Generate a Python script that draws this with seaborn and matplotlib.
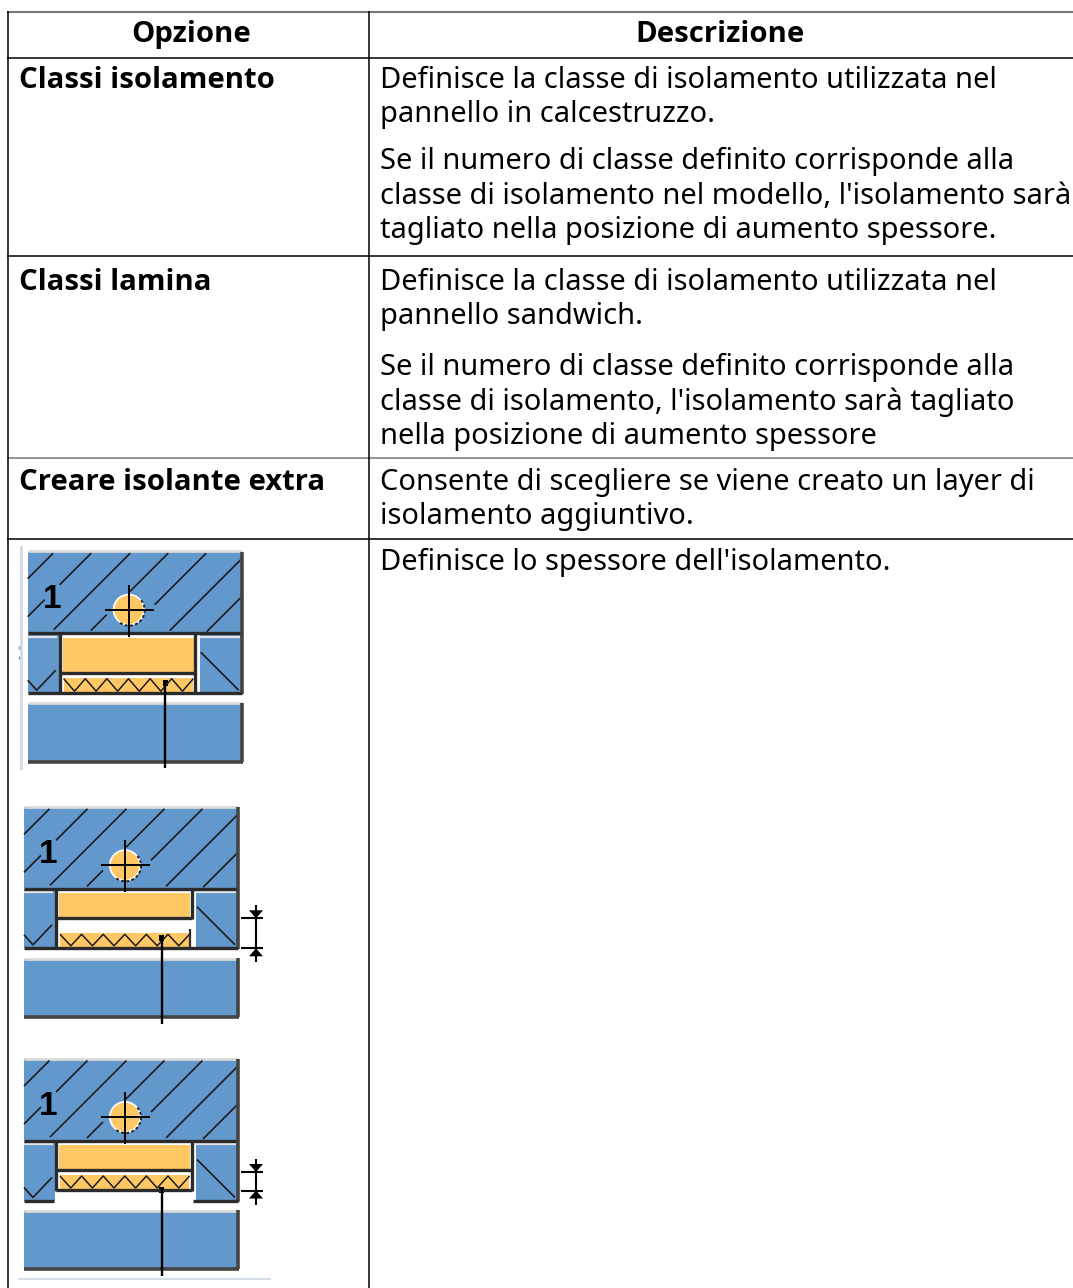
import matplotlib
matplotlib.use("Agg")
import matplotlib.pyplot as plt
import seaborn as sns
from matplotlib.patches import Rectangle, Circle, Polygon, Arc

# Table content
headers = ["Opzione", "Descrizione"]
options = ["Classi isolamento", "Classi lamina", "Creare isolante extra"]
option_baselines = [88, 290, 490]
descriptions = [
    "Definisce la classe di isolamento utilizzata nel",
    "pannello in calcestruzzo.",
    "Se il numero di classe definito corrisponde alla",
    "classe di isolamento nel modello, l'isolamento sarà",
    "tagliato nella posizione di aumento spessore.",
    "Definisce la classe di isolamento utilizzata nel",
    "pannello sandwich.",
    "Se il numero di classe definito corrisponde alla",
    "classe di isolamento, l'isolamento sarà tagliato",
    "nella posizione di aumento spessore",
    "Consente di scegliere se viene creato un layer di",
    "isolamento aggiuntivo.",
    "Definisce lo spessore dell'isolamento.",
]
description_baselines = [88, 122, 169, 204, 238, 290, 324, 375, 410, 444, 490, 524, 570]
row_rules = [57.5, 255.5, 458, 538.5]

BLUE = "#6398cc"
ORANGE = "#ffc864"
DARK = "#2b2b2b"
FS = 20.9
FS_BOLD = 21.1

sns.set_theme(style="white")
plt.rcParams["font.family"] = ["Noto Sans", "DejaVu Sans"]

fig, ax = plt.subplots(figsize=(10.73, 12.88), dpi=100)
ax.set_position([0, 0, 1, 1])
ax.axis("off")
ax.set_xlim(0, 1073)
ax.set_ylim(1288, 0)


def seg(xs, ys, lw=1.0, color="black", z=2):
    sns.lineplot(x=xs, y=ys, estimator=None, sort=False, errorbar=None, ax=ax,
                 color=color, lw=lw, legend=False, solid_capstyle="butt", zorder=z)


def rect(x0, y0, x1, y1, color):
    ax.add_patch(Rectangle((x0, y0), x1 - x0, y1 - y0, fc=color, ec="none"))


def diagram(x0, y0, up_bot, low_top, low_bot, side_bot, dims=None):
    def X(u):
        return x0 + u

    def Y(v):
        return y0 + v

    # top slab
    rect(X(0), Y(-1), X(214), Y(80), BLUE)
    seg([X(0), X(214)], [Y(-1.5), Y(-1.5)], 2.0, "#d9d9d9")
    # hatching, pieces given as ranges along the slab
    for c, stops in [(26, [(0, 26)]), (64, [(0, 17), (32, 64)]), (103, [(26, 103)]),
                     (141, [(63, 79), (102, 141)]), (179, [(127, 179)]), (220, [(142, 214)]),
                     (258, [(179, 214)])]:
        for a, b in stops:
            vs = [max(c - b, 0.5), min(c - a, 79)]
            seg([X(c - vs[0]), X(c - vs[1])], [Y(vs[0]), Y(vs[1])], 1.2, "#1c1c1c")
    # rebar circle
    ax.add_patch(Circle((X(101), Y(57)), 16, fc="white", ec="none", zorder=3))
    ax.add_patch(Arc((X(101.5), Y(57.5)), 31, 31, theta1=-40, theta2=130, ec="#222222",
                     lw=1.4, ls=(0, (1.5, 1.2)), zorder=3))
    ax.add_patch(Circle((X(101), Y(57)), 14.3, fc=ORANGE, ec="none", zorder=3))
    seg([X(77), X(126)], [Y(57), Y(57)], 1.4, z=4)
    seg([X(101), X(101)], [Y(32), Y(84)], 1.4, z=4)
    ax.text(X(24.5), Y(55), "1", fontsize=24, fontweight="bold", ha="center", va="baseline",
            family="Liberation Sans", color="black")

    # side blocks
    rect(X(0), Y(81), X(31), Y(side_bot), BLUE)
    rect(X(172), Y(81), X(214), Y(side_bot), BLUE)
    seg([X(0), X(29)], [Y(84), Y(84)], 1.6, "#e6e6e6")
    seg([X(171), X(212)], [Y(84), Y(84)], 1.6, "#e6e6e6")
    seg([X(0), X(9), X(28)], [Y(side_bot - 13), Y(side_bot - 3), Y(side_bot - 23)], 1.2, "#1c1c1c")
    seg([X(173), X(211)], [Y(side_bot - 41), Y(side_bot - 3)], 1.2, "#1c1c1c")

    # insulation
    rect(X(35), Y(85), X(166), Y(up_bot - 1), ORANGE)
    rect(X(36), Y(low_top + 4), X(165), Y(low_bot - 1), ORANGE)
    xz = [X(36 + i * 10.8) for i in range(13)]
    yz = [Y(low_top + 5 if i % 2 == 0 else low_bot - 2) for i in range(13)]
    seg(xz, yz, 1.1, "#1c1c1c")

    # outlines
    gap = low_top > up_bot + 4
    seg([X(0), X(214)], [Y(80.5), Y(80.5)], 2.4, DARK)
    seg([X(214), X(214)], [Y(-1), Y(side_bot + 1)], 2.6, "#444444")
    seg([X(32), X(32)], [Y(80), Y(low_bot + 1)], 2.4, DARK)
    seg([X(167.5), X(167.5)], [Y(80), Y(up_bot + 1 if gap else low_bot + 1)], 2.4, DARK)
    seg([X(32), X(167.5)], [Y(up_bot), Y(up_bot)], 2.4, DARK)
    if gap:
        seg([X(166), X(166)], [Y(low_top), Y(low_bot)], 1.6, DARK)
    if low_bot == side_bot:
        seg([X(0), X(214)], [Y(side_bot), Y(side_bot)], 2.4, DARK)
    else:
        seg([X(0), X(30)], [Y(side_bot), Y(side_bot)], 2.4, DARK)
        seg([X(169), X(214)], [Y(side_bot), Y(side_bot)], 2.4, DARK)
        seg([X(32), X(167.5)], [Y(low_bot), Y(low_bot)], 2.4, DARK)

    # bottom slab
    rect(X(0), Y(151), X(214), Y(209), BLUE)
    seg([X(0), X(214)], [Y(150.5), Y(150.5)], 2.0, "#d9d9d9")
    seg([X(0), X(215)], [Y(209), Y(209)], 2.6, "#444444")
    seg([X(214), X(214)], [Y(150), Y(209)], 2.6, "#444444")

    # pointer
    seg([X(137.5), X(137.5)], [Y(128), Y(215.5)], 1.7)
    rect(X(135), Y(127), X(140), Y(133), "black")

    # dimension
    if dims:
        top, bot = dims
        seg([X(232), X(232)], [Y(top - 13), Y(bot + 14)], 1.5)
        seg([X(217), X(239)], [Y(top), Y(top)], 1.5)
        seg([X(217), X(239)], [Y(bot), Y(bot)], 1.5)
        ax.add_patch(Polygon([(X(225), Y(top - 8)), (X(239), Y(top - 8)), (X(232), Y(top))], fc="black", ec="none"))
        ax.add_patch(Polygon([(X(225), Y(bot + 8)), (X(239), Y(bot + 8)), (X(232), Y(bot))], fc="black", ec="none"))


# Table rules
seg([7, 1073], [11.5, 11.5], 1.5, "#777777")
for i, yr in enumerate(row_rules):
    seg([7, 1073], [yr, yr], 1.1, "#777777" if i == 2 else "black")
seg([7.5, 7.5], [11, 1288], 1.1)
seg([368.5, 368.5], [11, 1288], 1.1)

# Text
ax.text(191, 41.5, headers[0], fontsize=FS_BOLD, family="Open Sans", fontweight="bold",
        ha="center", va="baseline", color="black")
ax.text(720, 41.5, headers[1], fontsize=FS_BOLD, family="Open Sans", fontweight="bold",
        ha="center", va="baseline", color="black")
for lab, yb in zip(options, option_baselines):
    ax.text(19, yb, lab, fontsize=FS_BOLD, family="Open Sans", fontweight="bold", va="baseline", color="black")
for line, yb in zip(descriptions, description_baselines):
    ax.text(380.5, yb, line, fontsize=FS, va="baseline", color="black", clip_on=True)

# Diagrams
ax.add_patch(Rectangle((19.5, 546), 3, 224, fc="#d8dce8", ec="none"))
seg([18.5, 18.5], [646, 649], 1.0, "#6aa0e0")
seg([18.5, 18.5], [656, 659], 1.0, "#6aa0e0")
diagram(27.7, 552.7, 120.5, 121, 140.5, 140.5)
diagram(24, 808.3, 110, 121, 139.5, 139.5, dims=(110, 140))
diagram(24, 1060, 110, 111, 130, 140.5, dims=(112, 130.5))
seg([18, 270.5], [1278.7, 1278.7], 1.5, "#d5dde8")

ax.set_xlim(0, 1073)
ax.set_ylim(1288, 0)
fig.savefig("out.png", dpi=100)
